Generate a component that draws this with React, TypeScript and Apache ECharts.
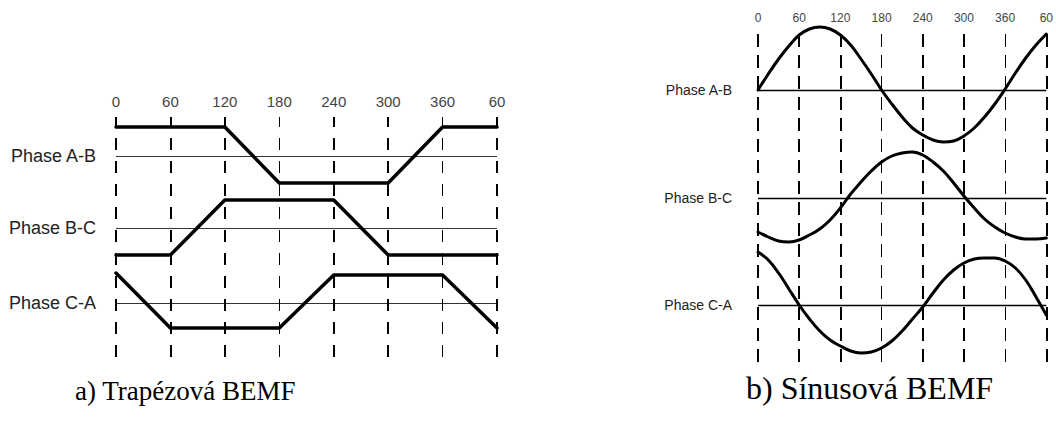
import React, { useEffect, useRef } from "react";
import * as echarts from "echarts";

// angle positions (electrical degrees), labels wrap 420 -> "60"
const angleTicks = [0, 60, 120, 180, 240, 300, 360, 420];
const tickLabels = ["0", "60", "120", "180", "240", "300", "360", "60"];
const thinTicks = [180, 360];
const phaseNames = ["Phase A-B", "Phase B-C", "Phase C-A"];

// a) trapezoidal BEMF, read at every 60°
const trapAngles = [0, 60, 120, 180, 240, 300, 360, 420];
const trapAB = [29, 29, 29, -27, -27, -27, 29, 29];
const trapBC = [-27, -27, 28, 28, 28, -27, -27, -27];
const trapCA = [30, -25, -25, -25, 28, 28, 28, -25];

// b) sinusoidal BEMF, read at every 15°
const sinAngles = [0, 15, 30, 45, 60, 75, 90, 105, 120, 135, 150, 165, 180, 195, 210, 225, 240, 255, 270, 285, 300, 315, 330, 345, 360, 375, 390, 405, 420];
const sinAB = [0, 16, 31, 44, 55, 61, 63, 61, 55, 45, 31, 16, 0, -14, -27, -38, -45, -50, -52, -51, -46, -38, -27, -14, 1, 17, 32, 45, 56];
const sinBC = [-34, -39, -43, -44, -42, -37, -31, -22, -10, 4, 16, 27, 36, 42, 45, 46, 43, 36, 27, 15, 2, -10, -21, -29, -35, -39, -41, -41, -40];
const sinCA = [53, 45, 32, 16, 0, -14, -26, -35, -41, -46, -48, -47, -43, -36, -26, -14, -2, 12, 25, 35, 42, 46, 47, 47, 44, 37, 25, 8, -10];

export default function App() {
  const ref = useRef<HTMLDivElement>(null);
  useEffect(() => {
    if (!ref.current) return;
    const chart = echarts.init(ref.current, null, { renderer: "svg" });

    const pair = (xs: number[], ys: number[], off: number) => xs.map((x, i) => [x, ys[i] + off]);

    const panels = [
      {
        grid: { left: 116, top: 117, width: 381, height: 240 },
        yMin: -201, yMax: 39,
        offsets: [0, -72, -147],
        xs: trapAngles,
        waves: [trapAB, trapBC, trapCA],
        smooth: false,
        waveWidth: 3.5,
        dash: [12, 11],
        labelSize: 15,
        labelMargin: 8,
        phaseSize: 18,
        phaseDist: 20,
        baseColor: "#333",
        baseWidth: 1,
      },
      {
        grid: { left: 758, top: 26, width: 292, height: 336 },
        yMin: -272, yMax: 64,
        offsets: [0, -108, -215],
        xs: sinAngles,
        waves: [sinAB, sinBC, sinCA],
        smooth: true,
        waveWidth: 3,
        dash: [13, 8],
        labelSize: 12,
        labelMargin: 2,
        phaseSize: 14,
        phaseDist: 26,
        baseColor: "#000",
        baseWidth: 1.3,
      },
    ];

    const series: any[] = [];
    panels.forEach((p, pi) => {
      p.waves.forEach((w, wi) => {
        series.push({
          type: "line",
          xAxisIndex: pi,
          yAxisIndex: pi,
          data: pair(p.xs, w, p.offsets[wi]),
          smooth: p.smooth ? 0.4 : false,
          showSymbol: false,
          symbol: "none",
          clip: false,
          lineStyle: { color: "#000", width: p.waveWidth, cap: "round", join: "round" },
          z: 5,
          markLine: {
            silent: true,
            symbol: ["none", "none"],
            animation: false,
            lineStyle: { color: p.baseColor, width: p.baseWidth, type: "solid" },
            label: {
              show: true,
              position: "start",
              distance: p.phaseDist,
              formatter: phaseNames[wi],
              fontFamily: "Liberation Sans",
              fontSize: p.phaseSize,
              color: "#222",
            },
            data: [{ yAxis: p.offsets[wi] }],
          },
        });
      });
      series.push({
        type: "line",
        xAxisIndex: pi,
        yAxisIndex: pi,
        data: [],
        z: 3,
        markLine: {
          silent: true,
          symbol: ["none", "none"],
          animation: false,
          label: { show: false },
          data: angleTicks.map((a) => ({
            xAxis: a,
            lineStyle: {
              color: "#000",
              width: thinTicks.includes(a) ? 1 : 2,
              type: p.dash,
            },
          })),
        },
      });
    });

    chart.setOption({
      animation: false,
      title: [
        {
          text: "a) Trapézová BEMF",
          left: 75,
          top: 377,
          padding: 0,
          textStyle: { fontFamily: "Liberation Serif", fontSize: 27, fontWeight: "normal", color: "#000" },
        },
        {
          text: "b) Sínusová BEMF",
          left: 746,
          top: 372,
          padding: 0,
          textStyle: { fontFamily: "Liberation Serif", fontSize: 32, fontWeight: "normal", color: "#000" },
        },
      ],
      grid: panels.map((p) => p.grid),
      xAxis: panels.map((p, pi) => ({
        type: "value",
        gridIndex: pi,
        position: "top",
        min: 0,
        max: 420,
        interval: 60,
        axisLine: { show: false },
        axisTick: { show: false },
        splitLine: { show: false },
        axisLabel: {
          show: true,
          margin: p.labelMargin,
          fontFamily: "Liberation Sans",
          fontSize: p.labelSize,
          color: "#444",
          showMinLabel: true,
          showMaxLabel: true,
          formatter: (v: number) => tickLabels[angleTicks.indexOf(v)] ?? "",
        },
      })),
      yAxis: panels.map((p, pi) => ({
        type: "value",
        gridIndex: pi,
        min: p.yMin,
        max: p.yMax,
        show: false,
      })),
      series,
    });
    return () => chart.dispose();
  }, []);
  return (
    <div
      ref={ref}
      style={{ position: "fixed", left: 0, top: 0, width: 1056, height: 423, background: "#fff" }}
    />
  );
}
